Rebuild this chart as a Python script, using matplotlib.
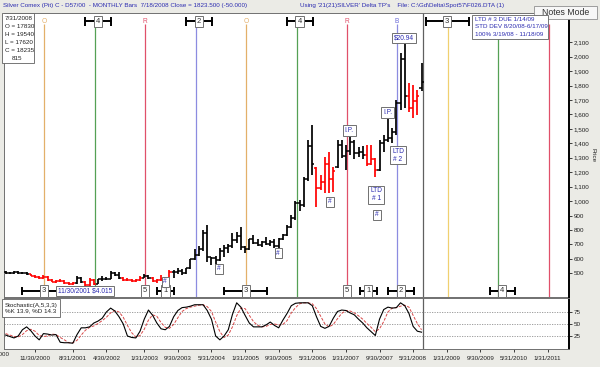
import matplotlib
matplotlib.use('Agg')
import matplotlib.pyplot as plt
from matplotlib.patches import Rectangle
from matplotlib.ticker import FuncFormatter

plt.rcParams['font.family'] = ['Liberation Sans', 'DejaVu Sans']

# monthly bars 4/2000 .. 7/2008, price in cents
opens = [512, 505, 500, 508, 500, 503, 495, 482, 475, 468,
         476, 455, 442, 448, 446, 432, 426, 430, 470, 440,
         418, 455, 428, 458, 464, 462, 505, 490, 468, 455,
         452, 444, 452, 470, 484, 466, 446, 452, 460, 455,
         510, 508, 515, 505, 535, 596, 630, 665, 780, 610,
         605, 590, 655, 675, 690, 730, 760, 683, 665, 735,
         713, 696, 715, 705, 715, 690, 735, 768, 820, 880,
         985, 975, 1150, 1380, 1230, 1090, 1135, 1260, 1150, 1235,
         1390, 1310, 1345, 1410, 1330, 1340, 1320, 1255, 1290, 1215,
         1400, 1420, 1440, 1480, 1680, 1985, 1730, 1645, 1690, 1783]
highs = [518, 512, 515, 516, 512, 510, 498, 488, 480, 485,
         480, 462, 455, 462, 452, 440, 440, 480, 474, 446,
         465, 460, 462, 478, 476, 515, 512, 508, 475, 468,
         458, 462, 482, 498, 490, 472, 460, 490, 472, 520,
         522, 535, 530, 540, 600, 665, 690, 800, 834, 615,
         620, 675, 696, 700, 778, 786, 820, 690, 740, 765,
         735, 725, 750, 730, 735, 745, 775, 835, 905, 1000,
         1010, 1165, 1420, 1525, 1236, 1180, 1305, 1340, 1236, 1423,
         1423, 1390, 1478, 1423, 1375, 1380, 1390, 1388, 1300, 1423,
         1457, 1596, 1506, 1700, 2025, 2094, 1817, 1803, 1770, 1954]
lows = [497, 495, 493, 495, 492, 490, 478, 470, 462, 462,
        450, 438, 436, 440, 428, 420, 418, 428, 432, 401,
        412, 420, 425, 450, 455, 460, 478, 460, 448, 448,
        438, 438, 445, 466, 460, 440, 435, 448, 445, 455,
        468, 495, 490, 498, 532, 590, 620, 655, 575, 555,
        560, 585, 613, 640, 675, 710, 660, 640, 660, 700,
        690, 680, 695, 690, 672, 668, 728, 760, 815, 870,
        930, 960, 1140, 1180, 958, 1077, 1055, 1055, 1063, 1229,
        1298, 1215, 1320, 1290, 1305, 1290, 1240, 1250, 1167, 1210,
        1340, 1409, 1402, 1457, 1630, 1645, 1617, 1575, 1596, 1762]
closes = [505, 500, 508, 500, 503, 495, 482, 475, 468, 476,
          455, 442, 448, 446, 432, 426, 430, 470, 440, 418,
          455, 428, 458, 464, 462, 505, 490, 468, 455, 452,
          444, 452, 470, 484, 466, 446, 452, 460, 455, 510,
          508, 515, 505, 535, 596, 630, 665, 780, 610, 605,
          590, 655, 675, 690, 730, 760, 683, 665, 735, 713,
          696, 715, 705, 715, 690, 735, 768, 820, 880, 985,
          975, 1150, 1380, 1255, 1090, 1135, 1260, 1150, 1210, 1390,
          1310, 1345, 1410, 1330, 1340, 1320, 1255, 1290, 1215, 1400,
          1420, 1440, 1480, 1680, 1985, 1730, 1645, 1690, 1727, 1823]
red_bars = list(range(6, 17)) + [19, 20, 21] + list(range(28, 33)) + \
    list(range(35, 40)) + list(range(74, 79)) + [86, 87, 88, 96, 97, 98]

stoch_k = [27, 24, 21, 25, 38, 44, 36, 25, 17, 30,
           29, 27, 28, 12, 11, 11, 10, 28, 42, 42,
           44, 52, 56, 62, 75, 83, 77, 65, 50, 25,
           22, 21, 35, 60, 79, 68, 52, 40, 38, 45,
           65, 78, 84, 85, 87, 90, 90, 90, 78, 60,
           25, 17, 25, 38, 70, 94, 85, 68, 52, 44,
           44, 44, 48, 54, 47, 42, 58, 72, 88, 93,
           94, 94, 94, 88, 65, 45, 41, 45, 62, 76,
           79, 78, 73, 69, 60, 52, 42, 34, 26, 60,
           80, 85, 83, 84, 94, 88, 72, 45, 35, 33]
stoch_d = [30, 27, 24, 23, 28, 36, 39, 35, 26, 24,
           25, 29, 28, 22, 17, 11, 11, 16, 27, 37,
           43, 46, 51, 57, 64, 73, 78, 75, 64, 47,
           32, 23, 26, 39, 58, 69, 66, 53, 43, 41,
           49, 63, 76, 82, 85, 87, 89, 90, 86, 76,
           54, 34, 22, 27, 44, 67, 83, 82, 68, 55,
           47, 44, 45, 49, 50, 48, 49, 57, 73, 84,
           92, 94, 94, 92, 82, 66, 50, 44, 49, 61,
           72, 78, 77, 73, 67, 60, 51, 43, 34, 40,
           55, 75, 83, 84, 87, 89, 85, 68, 51, 38]

date_labels = ['3/31/2000', '11/30/2000', '8/31/2001', '4/30/2002', '1/31/2003',
               '9/30/2003', '5/31/2004', '1/31/2005', '9/30/2005', '5/31/2006',
               '1/31/2007', '9/30/2007', '5/31/2008', '1/31/2009', '9/30/2009',
               '5/31/2010', '1/31/2011']
date_idx = [-1, 7, 16, 24, 33, 41, 49, 57, 65, 73, 81, 89, 97, 105, 113, 121, 129]

# cycle lines (bar index) and their colour / top marker
cycle_idx = [9.1, 21.3, 33.2, 45.3, 57.2, 69.4, 81.3, 93.2, 105.3, 117.2, 129.4]
cycle_col = ['#e3b06a', '#55a055', '#e0506a', '#8c8ce0', '#e3b06a', '#55a055',
             '#e0506a', '#8c8ce0', '#f0d070', '#55a055', '#e0506a']
letters = [(9.1, 'O', '#e3b06a'), (33.2, 'R', '#e0506a'), (57.2, 'O', '#e3b06a'),
           (81.3, 'R', '#e0506a'), (93.2, 'B', '#6a6ad8')]
# counted boxes: (index, label, half width of bracket or 0)
top_boxes = [(22.0, '4', 3.1), (46.0, '2', 3.1), (70.0, '4', 3.1), (105.1, '3', 5.1)]
bot_boxes = [(9.1, '3', 5.2), (33.2, '5', 0), (38.0, '1', 2.0), (57.2, '3', 5.1),
             (81.3, '5', 0), (86.3, '1', 2.0), (94.1, '2', 3.1), (118.2, '4', 3.0)]

blue = '#2b2bb0'
W, H = 600, 367


def fbox(x0, y0, x1, y1):
    return [x0 / W, 1 - y1 / H, (x1 - x0) / W, (y1 - y0) / H]


fig = plt.figure(figsize=(6, 3.67), dpi=100, facecolor='#ebebe6')
ax = fig.add_axes(fbox(4, 13, 569, 297))
axs = fig.add_axes(fbox(4, 298, 569, 349), sharex=ax)

n = len(closes)
x = list(range(n))
cols = ['#ff0000' if i in red_bars else 'black' for i in x]

# cycle lines
ax.vlines(cycle_idx, 300, 2225, colors=cycle_col, lw=0.9, zorder=1)
ax.axvline(99.3, color='#606060', lw=0.9, zorder=1)
axs.axvline(99.3, color='#606060', lw=0.9, zorder=1)

# bars
ax.vlines(x, lows, highs, colors=cols, lw=1.25, zorder=3)
ax.hlines(opens, [i - 0.5 for i in x], x, colors=cols, lw=1.1, zorder=3)
ax.hlines(closes, x, [i + 0.5 for i in x], colors=cols, lw=1.1, zorder=3)

box_kw = dict(boxstyle='square,pad=0.28', fc='white', ec='#707070', lw=0.7)


def tag(xx, yy, s, color=blue, fs=4.8):
    ax.text(xx, yy, s, ha='center', va='center', fontsize=fs, color=color,
            bbox=box_kw, zorder=6, linespacing=1.15)


def bracket(xx, yy, half):
    ax.plot([xx - half, xx + half], [yy, yy], color='black', lw=1.4, zorder=4)
    ax.vlines([xx - half, xx + half], yy - 30, yy + 30, colors='black', lw=1.4, zorder=4)


for xx, s, c in letters:
    ax.text(xx, 2245, s, ha='center', va='center', fontsize=4.8, color=c)
for xx, s, half in top_boxes:
    if half:
        bracket(xx, 2244, half)
    tag(xx, 2244, s, color='#303030', fs=5.5)
for xx, s, half in bot_boxes:
    if half:
        bracket(xx, 378, half)
    tag(xx, 378, s, color='#303030', fs=5.5)

tag(18.9, 377, '11/30/2001 $4.015')
tag(38.0, 440, '#')
tag(94.9, 2129, '$20.94')
tag(81.8, 1490, 'I.P.')
tag(90.9, 1612, 'I.P.')
tag(93.4, 1318, 'LTD\n# 2')
tag(88.2, 1043, 'LTD\n# 1')
tag(50.8, 530, '#')
tag(64.9, 640, '#')
tag(77.2, 994, '#')
tag(88.4, 904, '#')

ax.set_xlim(-0.38, 134.1)
ax.set_ylim(336, 2302)
ax.yaxis.tick_right()
ax.set_yticks(range(500, 2200, 100))
ax.yaxis.set_major_formatter(FuncFormatter(lambda v, p: '{:,}'.format(int(v))))
ax.tick_params(axis='y', labelsize=4.5, length=2, pad=1.5, width=0.6, colors='#202020')
ax.tick_params(axis='x', bottom=False, labelbottom=False)
for s in ['left', 'top', 'bottom']:
    ax.spines[s].set_color('#707070')
    ax.spines[s].set_linewidth(0.7)
ax.spines['right'].set_color('black')
ax.spines['right'].set_linewidth(1.4)

# stochastic panel
axs.plot(x, stoch_d, color='#d84848', lw=0.7, dashes=(3, 1.5), zorder=2)
axs.plot(x, stoch_k, color='black', lw=0.8, zorder=3)
axs.set_ylim(-2, 104)
axs.yaxis.tick_right()
axs.set_yticks([25, 50, 75])
axs.grid(axis='y', color='#909090', ls=(0, (1.5, 1.5)), lw=0.6)
axs.tick_params(axis='y', labelsize=4.5, length=2, pad=1.5, width=0.6, colors='#202020')
axs.set_xticks(date_idx[1:])
axs.set_xticklabels(date_labels[1:])
axs.tick_params(axis='x', labelsize=4.5, length=2.5, pad=2.5, width=0.6, colors='#202020')
# first date label sits at the left edge, partly cut as in the screen
axs.text(1.1, -14, date_labels[0], ha='right', va='center', fontsize=4.5,
         color='#202020', clip_on=False, transform=axs.transData)
for s in ['left', 'top', 'bottom']:
    axs.spines[s].set_color('#707070')
    axs.spines[s].set_linewidth(0.7)
axs.spines['right'].set_color('black')
axs.spines['right'].set_linewidth(1.4)

# text in the frame
fig.text(3 / W, 1 - 6 / H, 'Silver Comex (Pit) C - D57/00  - MONTHLY Bars  7/18/2008 Close = 1823.500 (-50.000)',
         fontsize=4.5, color=blue, va='center')
fig.text(300 / W, 1 - 6 / H, "Using '21(21)SILVER' Delta TP's    File: C:\\Gd\\Delta\\Spot57\\F026.DTA (1)",
         fontsize=4.5, color=blue, va='center')
fig.text(593 / W, 1 - 155 / H, 'Price', rotation=-90, fontsize=4.5, color='#202020',
         ha='center', va='center')

fig.add_artist(Rectangle((534 / W, 1 - 19 / H), 63 / W, 13 / H, transform=fig.transFigure,
                         fc='#f7f7f7', ec='#909090', lw=0.6))
fig.text(565.5 / W, 1 - 12.5 / H, 'Notes Mode', fontsize=6.3, color='#303030',
         ha='center', va='center')

fig.add_artist(Rectangle((2 / W, 1 - 63 / H), 32 / W, 50 / H, transform=fig.transFigure,
                         fc='white', ec='#606060', lw=0.6, zorder=5))
info = ['7/31/2008', 'O = 17830', 'H = 19540', 'L = 17620', 'C = 18235', '815']
for k, s in enumerate(info):
    xx = 5 if k < 5 else 12
    fig.text(xx / W, 1 - (19 + 8 * k) / H, s, fontsize=4.5, color='#202020', va='center', zorder=6)

fig.add_artist(Rectangle((472 / W, 1 - 39 / H), 76 / W, 24 / H, transform=fig.transFigure,
                         fc='white', ec='#606060', lw=0.6, zorder=5))
ltd = ['LTD # 3 DUE 1/14/09', 'STD DEV 8/20/08-6/17/09', '100% 3/19/08 - 11/18/09']
for k, s in enumerate(ltd):
    fig.text(475 / W, 1 - (19.5 + 7.5 * k) / H, s, fontsize=4.5, color=blue, va='center', zorder=6)

fig.add_artist(Rectangle((2 / W, 1 - 317 / H), 58 / W, 18 / H, transform=fig.transFigure,
                         fc='white', ec='#606060', lw=0.6, zorder=5))
fig.text(31 / W, 1 - 308 / H, 'Stochastic(A,5,3,3)\n%K 13.9, %D 14.3', fontsize=4.5,
         color='#202020', ha='center', va='center', zorder=6, linespacing=1.1)

fig.savefig('out.png', dpi=100, facecolor=fig.get_facecolor())
